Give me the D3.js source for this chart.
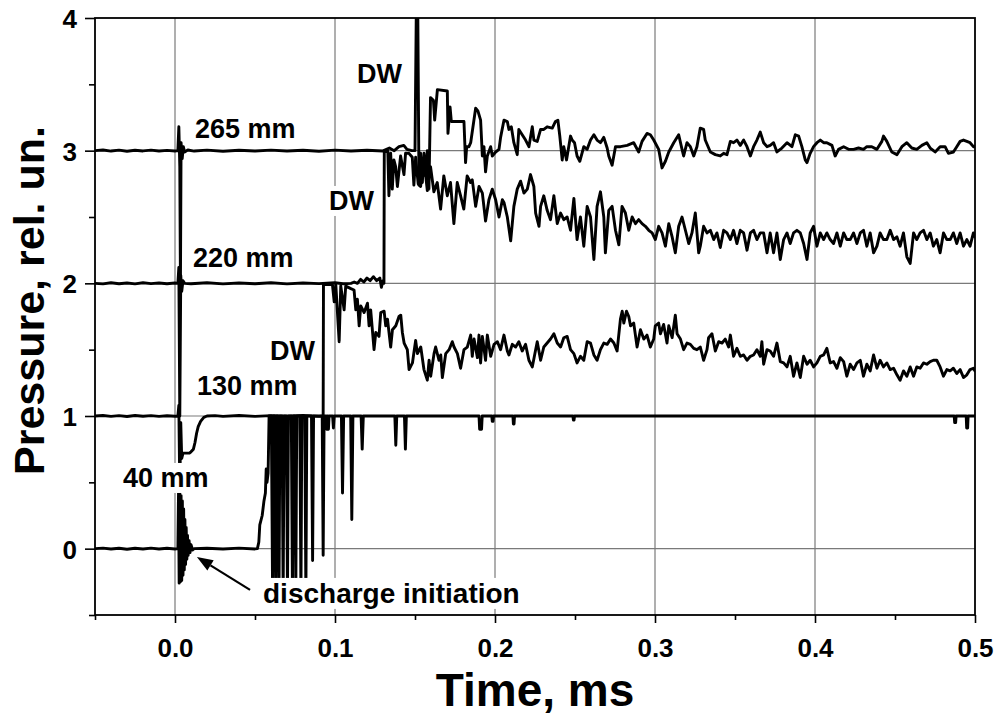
<!DOCTYPE html>
<html><head><meta charset="utf-8">
<script src="https://cdn.jsdelivr.net/npm/d3@7"></script>
<style>
html,body{margin:0;padding:0;background:#fff;}
svg text{font-family:"Liberation Sans",Arial,Helvetica,sans-serif;font-weight:bold;fill:#000;}
</style></head>
<body><svg id="chart" width="999" height="715"></svg>
<script>
// ---------- data ----------
const xTickValues = [0.0, 0.1, 0.2, 0.3, 0.4, 0.5];
const xMinorTicks = [-0.05, 0.05, 0.15, 0.25, 0.35, 0.45];
const yTickValues = [0, 1, 2, 3, 4];
const yMinorTicks = [-0.5, 0.5, 1.5, 2.5, 3.5];
const xTitle = "Time, ms";
const yTitle = "Pressure, rel. un.";
const labelTexts = ["265 mm", "220 mm", "130 mm", "40 mm", "DW", "DW", "DW", "discharge initiation"];

const trace265 = [[-0.05,3.0],[-0.045,3.005],[-0.04,2.997],[-0.035,3.004],[-0.03,2.996],[-0.025,3.003],[-0.02,2.998],[-0.015,3.004],[-0.01,2.997],[-0.005,3.002],[0.0,2.998],[0.0018,3.0],[0.0024,3.18],[0.003,2.88],[0.0034,2.0],[0.0038,3.06],[0.0045,2.94],[0.0052,3.03],[0.006,2.99],[0.008,3.005],[0.012,2.997],[0.02,3.004],[0.03,2.996],[0.04,3.003],[0.05,2.997],[0.06,3.004],[0.07,2.998],[0.08,3.003],[0.09,2.996],[0.1,3.004],[0.11,2.998],[0.12,3.003],[0.13,2.998],[0.134,3.02],[0.137,3.0],[0.14,3.03],[0.143,3.04],[0.145,3.01],[0.148,3.0],[0.15,3.0],[0.151,4.3],[0.1516,4.3],[0.1525,2.74],[0.1535,2.98],[0.1546,2.76],[0.1556,2.98],[0.1566,2.81],[0.1577,3.0],[0.1587,2.71],[0.1597,3.4],[0.1615,3.38],[0.1623,3.23],[0.164,3.46],[0.1702,3.45],[0.1706,3.13],[0.1719,3.33],[0.1727,3.22],[0.1806,3.22],[0.1816,2.91],[0.1823,3.03],[0.1837,3.03],[0.1848,3.06],[0.1879,3.32],[0.1893,3.3],[0.191,3.23],[0.1921,2.96],[0.1931,3.03],[0.1941,2.84],[0.1952,2.96],[0.1973,3.03],[0.1983,2.96],[0.2004,2.99],[0.2025,3.01],[0.2035,3.1],[0.2056,3.23],[0.2077,3.22],[0.2087,3.16],[0.2102,3.18],[0.2118,3.06],[0.2139,2.97],[0.2149,3.16],[0.217,3.12],[0.2191,3.08],[0.2212,3.03],[0.2233,3.18],[0.2243,3.08],[0.2264,3.07],[0.2285,3.16],[0.2305,3.16],[0.2326,3.18],[0.2358,3.17],[0.2378,3.22],[0.2393,3.23],[0.2405,3.11],[0.242,2.93],[0.243,3.03],[0.2447,2.93],[0.2472,3.11],[0.2482,3.08],[0.2497,3.06],[0.2513,2.96],[0.253,2.92],[0.2555,3.03],[0.2576,3.01],[0.2597,3.08],[0.2618,3.12],[0.2638,3.08],[0.2659,3.06],[0.268,3.1],[0.2701,3.02],[0.2711,2.96],[0.2732,2.89],[0.2753,3.03],[0.2784,3.03],[0.2826,3.04],[0.2867,3.06],[0.2898,2.99],[0.2919,3.07],[0.295,3.13],[0.2971,3.12],[0.2992,3.08],[0.3023,3.01],[0.3044,2.87],[0.3065,2.92],[0.3086,2.99],[0.3117,3.06],[0.3148,3.12],[0.3169,3.01],[0.3179,2.96],[0.32,3.06],[0.3221,3.03],[0.3242,2.96],[0.3262,3.03],[0.3283,3.17],[0.3304,3.16],[0.3314,3.08],[0.3346,2.99],[0.3377,2.97],[0.3408,2.96],[0.3429,2.98],[0.345,2.97],[0.3471,3.07],[0.3491,3.06],[0.3512,3.08],[0.3533,3.04],[0.3554,3.08],[0.3575,3.03],[0.3596,2.96],[0.3616,3.03],[0.3637,3.08],[0.3658,3.14],[0.3679,3.06],[0.37,3.03],[0.372,3.04],[0.3741,3.06],[0.3762,2.99],[0.3793,3.02],[0.3825,3.06],[0.3856,3.03],[0.3877,3.12],[0.3898,3.11],[0.3918,3.03],[0.3939,2.93],[0.395,2.91],[0.397,2.98],[0.3991,3.03],[0.4012,3.06],[0.4033,3.08],[0.4054,3.06],[0.4074,3.06],[0.4106,3.04],[0.4126,2.96],[0.4147,3.01],[0.4179,3.03],[0.421,3.01],[0.4241,3.01],[0.4272,3.02],[0.4303,3.01],[0.4324,3.03],[0.4355,3.03],[0.4387,3.01],[0.4418,3.07],[0.4428,3.11],[0.4449,3.07],[0.448,2.99],[0.4512,2.97],[0.4543,3.03],[0.4574,3.06],[0.4605,3.02],[0.4636,3.01],[0.4668,3.04],[0.4699,3.06],[0.472,3.02],[0.4751,2.99],[0.4782,3.03],[0.4813,3.03],[0.4834,2.98],[0.4865,2.99],[0.4886,3.03],[0.4907,3.07],[0.4928,3.08],[0.4949,3.07],[0.4969,3.06],[0.499,3.03],[0.5,3.03]];

const trace220 = [[-0.05,2.0],[-0.045,1.996],[-0.04,2.004],[-0.035,1.997],[-0.03,2.003],[-0.025,1.996],[-0.02,2.004],[-0.015,1.998],[-0.01,2.003],[-0.005,1.997],[0.0,2.002],[0.0018,2.0],[0.0024,2.12],[0.003,1.0],[0.0036,2.06],[0.0042,1.94],[0.005,2.02],[0.006,2.0],[0.01,1.997],[0.02,2.004],[0.03,1.996],[0.04,2.003],[0.05,1.997],[0.06,2.004],[0.07,1.996],[0.08,2.003],[0.09,1.998],[0.1,2.004],[0.105,1.997],[0.11,2.0],[0.112,2.01],[0.114,2.0],[0.116,2.03],[0.118,2.01],[0.12,2.04],[0.122,2.02],[0.124,2.05],[0.126,2.02],[0.128,2.04],[0.129,1.97],[0.13,2.02],[0.1306,2.0],[0.1308,2.99],[0.133,3.0],[0.1337,2.66],[0.1348,2.98],[0.1358,2.71],[0.1368,2.93],[0.1379,2.88],[0.139,2.73],[0.141,2.96],[0.1431,2.82],[0.1441,2.98],[0.1462,2.98],[0.1483,2.95],[0.1493,2.74],[0.1504,2.95],[0.152,2.75],[0.1535,2.73],[0.1556,2.93],[0.1577,2.7],[0.1597,2.88],[0.1618,2.69],[0.1639,2.76],[0.166,2.56],[0.168,2.81],[0.1702,2.66],[0.1722,2.76],[0.1743,2.45],[0.1764,2.76],[0.1785,2.66],[0.1805,2.56],[0.1826,2.81],[0.1847,2.76],[0.1858,2.78],[0.1879,2.58],[0.19,2.73],[0.1921,2.68],[0.1941,2.47],[0.1962,2.63],[0.1983,2.71],[0.2004,2.63],[0.2025,2.5],[0.2046,2.63],[0.2056,2.61],[0.2077,2.5],[0.2098,2.32],[0.2118,2.58],[0.2139,2.71],[0.216,2.77],[0.2181,2.68],[0.2202,2.71],[0.2222,2.82],[0.2243,2.73],[0.2254,2.53],[0.2275,2.43],[0.2285,2.58],[0.2305,2.66],[0.2326,2.55],[0.2347,2.48],[0.2368,2.66],[0.2389,2.45],[0.241,2.53],[0.243,2.48],[0.2451,2.5],[0.2472,2.4],[0.2493,2.64],[0.2513,2.33],[0.2534,2.5],[0.2555,2.28],[0.2576,2.58],[0.2597,2.5],[0.2618,2.18],[0.2638,2.58],[0.2659,2.69],[0.268,2.5],[0.269,2.23],[0.2711,2.55],[0.2732,2.58],[0.2753,2.4],[0.2774,2.29],[0.2794,2.58],[0.2815,2.53],[0.2836,2.4],[0.2857,2.5],[0.2878,2.45],[0.2898,2.48],[0.2919,2.45],[0.294,2.43],[0.2961,2.4],[0.2982,2.38],[0.3002,2.33],[0.3023,2.43],[0.3044,2.38],[0.3065,2.28],[0.3086,2.45],[0.3107,2.35],[0.3127,2.23],[0.3148,2.43],[0.3169,2.5],[0.319,2.4],[0.3211,2.3],[0.3231,2.38],[0.3252,2.53],[0.3273,2.23],[0.3283,2.28],[0.3304,2.43],[0.3325,2.38],[0.3346,2.4],[0.3367,2.33],[0.3387,2.38],[0.3408,2.27],[0.3429,2.4],[0.345,2.38],[0.3471,2.33],[0.3491,2.4],[0.3512,2.3],[0.3533,2.4],[0.3554,2.38],[0.3575,2.25],[0.3596,2.38],[0.3616,2.4],[0.3637,2.33],[0.3658,2.38],[0.3679,2.38],[0.37,2.23],[0.372,2.38],[0.3741,2.23],[0.3762,2.38],[0.3783,2.18],[0.3804,2.33],[0.3825,2.38],[0.3845,2.3],[0.3866,2.38],[0.3887,2.4],[0.3908,2.38],[0.3929,2.3],[0.395,2.18],[0.397,2.38],[0.3991,2.43],[0.4012,2.28],[0.4033,2.38],[0.4054,2.33],[0.4074,2.38],[0.4095,2.33],[0.4116,2.3],[0.4137,2.38],[0.4158,2.28],[0.4179,2.38],[0.4199,2.33],[0.422,2.33],[0.4241,2.38],[0.4262,2.3],[0.4283,2.38],[0.4303,2.4],[0.4324,2.28],[0.4345,2.38],[0.4366,2.23],[0.4387,2.28],[0.4407,2.38],[0.4428,2.33],[0.4449,2.33],[0.447,2.4],[0.4491,2.33],[0.4512,2.35],[0.4532,2.28],[0.4553,2.38],[0.4574,2.2],[0.4595,2.15],[0.4616,2.38],[0.4636,2.33],[0.4657,2.38],[0.4678,2.4],[0.4699,2.33],[0.472,2.38],[0.474,2.28],[0.4761,2.33],[0.4782,2.23],[0.4803,2.38],[0.4824,2.33],[0.4845,2.33],[0.4865,2.38],[0.4886,2.3],[0.4907,2.38],[0.4928,2.28],[0.4949,2.33],[0.4969,2.28],[0.499,2.38],[0.5,2.35]];

const trace130 = [[-0.05,1.0],[-0.045,1.004],[-0.04,0.997],[-0.035,1.003],[-0.03,0.996],[-0.025,1.004],[-0.02,0.998],[-0.015,1.003],[-0.01,0.997],[-0.005,1.002],[0.0,0.998],[0.0018,1.0],[0.0024,1.08],[0.003,0.45],[0.0036,0.95],[0.0042,0.68],[0.005,0.72],[0.007,0.72],[0.009,0.72],[0.01,0.73],[0.0115,0.75],[0.0125,0.8],[0.0135,0.87],[0.0145,0.92],[0.016,0.96],[0.018,0.99],[0.02,1.0],[0.025,1.003],[0.03,0.997],[0.04,1.004],[0.05,0.997],[0.06,1.003],[0.07,0.998],[0.08,1.004],[0.09,0.997],[0.0926,1.0],[0.0928,2.0],[0.0932,1.99],[0.0984,1.99],[0.0995,1.86],[0.1005,1.99],[0.1026,1.56],[0.1036,1.98],[0.1057,1.8],[0.1067,1.98],[0.1099,1.96],[0.1119,1.95],[0.113,1.8],[0.114,1.88],[0.1151,1.68],[0.1161,1.83],[0.1182,1.78],[0.1203,1.85],[0.1213,1.68],[0.1223,1.8],[0.1244,1.5],[0.1255,1.63],[0.1275,1.6],[0.1286,1.78],[0.1307,1.79],[0.1317,1.68],[0.1328,1.73],[0.1348,1.52],[0.1359,1.65],[0.138,1.68],[0.14,1.75],[0.1411,1.76],[0.1421,1.63],[0.1432,1.55],[0.1452,1.5],[0.1463,1.35],[0.1484,1.4],[0.1504,1.57],[0.1515,1.47],[0.1536,1.52],[0.1556,1.35],[0.1577,1.27],[0.1588,1.42],[0.1598,1.3],[0.1619,1.47],[0.1629,1.52],[0.165,1.42],[0.1661,1.46],[0.1671,1.29],[0.1692,1.47],[0.1713,1.5],[0.1733,1.56],[0.1744,1.52],[0.1765,1.47],[0.1785,1.36],[0.1806,1.5],[0.1827,1.52],[0.1848,1.61],[0.1858,1.45],[0.1869,1.58],[0.189,1.44],[0.19,1.61],[0.191,1.4],[0.1921,1.6],[0.1941,1.42],[0.1952,1.61],[0.1973,1.45],[0.1994,1.54],[0.2015,1.56],[0.2035,1.5],[0.2056,1.61],[0.2077,1.49],[0.2087,1.46],[0.2108,1.54],[0.2129,1.52],[0.2149,1.56],[0.217,1.49],[0.2191,1.54],[0.2212,1.42],[0.2233,1.37],[0.2254,1.5],[0.2264,1.56],[0.2285,1.42],[0.2305,1.52],[0.2326,1.55],[0.2347,1.58],[0.2368,1.62],[0.2389,1.55],[0.241,1.52],[0.243,1.59],[0.2451,1.6],[0.2472,1.5],[0.2493,1.47],[0.2513,1.4],[0.2534,1.45],[0.2555,1.42],[0.2576,1.56],[0.2597,1.55],[0.2618,1.46],[0.2638,1.42],[0.2659,1.5],[0.268,1.55],[0.2701,1.54],[0.2722,1.58],[0.2743,1.55],[0.2763,1.49],[0.2784,1.73],[0.2795,1.79],[0.2805,1.7],[0.2822,1.79],[0.2836,1.75],[0.2847,1.68],[0.2867,1.7],[0.2888,1.52],[0.2909,1.65],[0.293,1.58],[0.295,1.61],[0.2971,1.52],[0.2992,1.58],[0.3002,1.68],[0.3023,1.7],[0.3034,1.62],[0.3054,1.69],[0.3075,1.55],[0.3086,1.68],[0.3107,1.59],[0.3127,1.76],[0.3138,1.62],[0.3159,1.58],[0.3179,1.5],[0.32,1.55],[0.3221,1.54],[0.3242,1.51],[0.3262,1.5],[0.3283,1.52],[0.3304,1.42],[0.3325,1.5],[0.3335,1.59],[0.3356,1.62],[0.3377,1.49],[0.3398,1.56],[0.3419,1.55],[0.3439,1.58],[0.346,1.52],[0.3471,1.61],[0.3491,1.45],[0.3512,1.51],[0.3533,1.45],[0.3554,1.46],[0.3575,1.42],[0.3596,1.45],[0.3616,1.46],[0.3637,1.5],[0.3658,1.45],[0.3668,1.56],[0.3679,1.39],[0.37,1.5],[0.372,1.49],[0.3741,1.45],[0.3762,1.55],[0.3783,1.41],[0.3804,1.4],[0.3825,1.37],[0.3845,1.45],[0.3866,1.3],[0.3887,1.4],[0.3908,1.29],[0.3929,1.45],[0.395,1.39],[0.397,1.42],[0.3991,1.37],[0.4012,1.4],[0.4033,1.45],[0.4054,1.46],[0.4074,1.51],[0.4095,1.4],[0.4116,1.41],[0.4137,1.36],[0.4158,1.44],[0.4179,1.41],[0.4199,1.3],[0.422,1.39],[0.4241,1.35],[0.4262,1.4],[0.4283,1.42],[0.4303,1.3],[0.4324,1.39],[0.4345,1.34],[0.4366,1.46],[0.4387,1.36],[0.4407,1.42],[0.4428,1.37],[0.4449,1.4],[0.447,1.35],[0.4491,1.36],[0.4512,1.31],[0.4532,1.27],[0.4553,1.34],[0.4574,1.3],[0.4595,1.37],[0.4616,1.3],[0.4636,1.37],[0.4657,1.36],[0.4678,1.4],[0.4699,1.39],[0.472,1.41],[0.474,1.42],[0.4761,1.42],[0.4782,1.37],[0.4803,1.3],[0.4824,1.35],[0.4845,1.34],[0.4865,1.36],[0.4886,1.32],[0.4907,1.35],[0.4928,1.29],[0.4949,1.31],[0.4969,1.35],[0.499,1.36],[0.5,1.34]];

const trace40 = [[-0.05,0.0],[-0.045,0.004],[-0.04,-0.003],[-0.035,0.003],[-0.03,-0.004],[-0.025,0.003],[-0.02,-0.003],[-0.015,0.004],[-0.01,-0.003],[-0.005,0.003],[0.0,-0.002],[0.0018,0.0],[0.0022,0.42],[0.0026,-0.26],[0.003,0.44],[0.0034,-0.25],[0.0038,0.4],[0.0042,-0.24],[0.0046,0.36],[0.005,-0.2],[0.0054,0.3],[0.0058,-0.16],[0.0062,0.22],[0.0066,-0.12],[0.007,0.16],[0.0074,-0.08],[0.0078,0.1],[0.0082,-0.05],[0.0088,0.06],[0.0094,-0.03],[0.01,0.03],[0.011,-0.01],[0.012,0.0],[0.02,0.003],[0.03,-0.003],[0.04,0.004],[0.05,-0.002],[0.0515,0.0],[0.0524,0.05],[0.053,0.18],[0.0545,0.25],[0.0556,0.36],[0.0565,0.42],[0.057,0.6],[0.0575,0.5],[0.0582,0.57],[0.0588,1.0],[0.0602,1.0],[0.061,-0.35],[0.0616,1.0],[0.0623,1.0],[0.063,-0.35],[0.0636,1.0],[0.0643,1.0],[0.065,-0.35],[0.0656,1.0],[0.0669,1.0],[0.0676,-0.35],[0.0682,1.0],[0.0696,1.0],[0.0703,-0.35],[0.0709,1.0],[0.0727,1.0],[0.0734,-0.35],[0.074,1.0],[0.0749,1.0],[0.0755,-0.35],[0.0761,1.0],[0.078,1.0],[0.0787,-0.35],[0.0793,1.0],[0.0811,1.0],[0.0818,-0.35],[0.0824,1.0],[0.0853,1.0],[0.086,-0.09],[0.0866,1.0],[0.092,1.0],[0.0926,-0.05],[0.0932,1.0],[0.0944,1.0],[0.0948,0.9],[0.0952,1.0],[0.0955,1.0],[0.0959,0.9],[0.0963,1.0],[0.0985,1.0],[0.099,0.91],[0.0995,1.0],[0.104,1.0],[0.1047,0.42],[0.1054,1.0],[0.1098,1.0],[0.1105,0.22],[0.1112,1.0],[0.1163,1.0],[0.117,0.75],[0.1177,1.0],[0.1374,1.0],[0.138,0.78],[0.1386,1.0],[0.1434,1.0],[0.144,0.75],[0.1446,1.0],[0.19,1.0],[0.1904,0.9],[0.1916,0.9],[0.192,1.0],[0.198,1.0],[0.1983,0.96],[0.1988,0.96],[0.1991,1.0],[0.2112,1.0],[0.2115,0.94],[0.2119,0.94],[0.2122,1.0],[0.2487,1.0],[0.249,0.97],[0.2494,0.97],[0.2497,1.0],[0.3,1.0],[0.4,1.0],[0.487,1.0],[0.4873,0.95],[0.4879,0.95],[0.4882,1.0],[0.4945,1.0],[0.4948,0.91],[0.4954,0.91],[0.4957,1.0],[0.5,1.0]];

const traces = [trace265, trace220, trace130, trace40];

// ---------- layout ----------
const W = 999, H = 715;
const plot = {left: 95, right: 975, top: 18, bottom: 615};
const FONT = '"Liberation Sans",Arial,Helvetica,sans-serif';

const svg = d3.select("#chart");
svg.append("rect").attr("width", W).attr("height", H).attr("fill", "#fff");

const x = d3.scaleLinear().domain([-0.05, 0.5]).range([plot.left, plot.right]);
const y = d3.scaleLinear().domain([-0.5, 4]).range([plot.bottom, plot.top]);

// grid
const grid = svg.append("g").attr("stroke", "#7a7a7a").attr("stroke-width", 1.2);
grid.selectAll("line.v").data(xTickValues.filter(d => d < 0.5)).join("line")
  .attr("x1", d => x(d)).attr("x2", d => x(d)).attr("y1", plot.top).attr("y2", plot.bottom);
grid.selectAll("line.h").data(yTickValues.filter(d => d < 4)).join("line")
  .attr("y1", d => y(d)).attr("y2", d => y(d)).attr("x1", plot.left).attr("x2", plot.right);

// traces
svg.append("clipPath").attr("id", "clip").append("rect")
  .attr("x", plot.left).attr("y", plot.top).attr("width", plot.right - plot.left).attr("height", plot.bottom - plot.top);
const line = d3.line().x(d => x(d[0])).y(d => y(d[1]));
svg.append("g").attr("clip-path", "url(#clip)")
  .selectAll("path").data(traces).join("path")
  .attr("d", line).attr("fill", "none").attr("stroke", "#000")
  .attr("stroke-width", 2.9).attr("stroke-linejoin", "round").attr("stroke-linecap", "round");

// frame
svg.append("rect").attr("x", plot.left).attr("y", plot.top)
  .attr("width", plot.right - plot.left).attr("height", plot.bottom - plot.top)
  .attr("fill", "none").attr("stroke", "#000").attr("stroke-width", 1.8);

// axes
const fmtX = d3.format(".1f");
const xAxis = svg.append("g").attr("transform", `translate(0,${plot.bottom})`)
  .call(d3.axisBottom(x).tickValues(xTickValues).tickFormat(fmtX).tickSize(8).tickPadding(16));
const xAxisMinor = svg.append("g").attr("transform", `translate(0,${plot.bottom})`)
  .call(d3.axisBottom(x).tickValues(xMinorTicks).tickFormat("").tickSize(5));
const yAxis = svg.append("g").attr("transform", `translate(${plot.left},0)`)
  .call(d3.axisLeft(y).tickValues(yTickValues).tickFormat(d3.format("d")).tickSize(10).tickPadding(8));
const yAxisMinor = svg.append("g").attr("transform", `translate(${plot.left},0)`)
  .call(d3.axisLeft(y).tickValues(yMinorTicks).tickFormat("").tickSize(6));
[xAxis, xAxisMinor, yAxis, yAxisMinor].forEach(g => {
  g.select(".domain").remove();
  g.selectAll(".tick line").attr("stroke", "#000").attr("stroke-width", 1.6);
  g.selectAll("text").attr("font-family", FONT).attr("font-weight", "bold").attr("font-size", 26).attr("fill", "#000");
});
xAxis.selectAll("text").attr("dy", "0.71em");
yAxis.selectAll("text").attr("dy", "0.36em");

// titles
svg.append("text").attr("x", (plot.left + plot.right) / 2).attr("y", 706)
  .attr("text-anchor", "middle").attr("font-size", 46).text(xTitle);
svg.append("text").attr("transform", `translate(44,${(plot.top + plot.bottom) / 2 - 16}) rotate(-90)`)
  .attr("text-anchor", "middle").attr("font-size", 43).text(yTitle);

// annotations (anchor: start x in ms, baseline in pressure units)
const labelAnchors = [[0.0125, 3.096], [0.0112, 2.123], [0.0137, 1.159], [-0.0325, 0.465],
  [0.1137, 3.51], [0.0962, 2.553], [0.0594, 1.422], [0.055, -0.409]];
const labelSizes = [27, 27, 27, 27, 27, 27, 27, 28];
const labG = svg.append("g");
labelTexts.forEach((t, i) => {
  const g = labG.append("g");
  const bg = g.append("rect").attr("fill", "#fff");
  const tx = g.append("text").attr("x", x(labelAnchors[i][0])).attr("y", y(labelAnchors[i][1]))
    .attr("font-size", labelSizes[i]).text(t);
  const b = tx.node().getBBox();
  bg.attr("x", b.x - 2).attr("y", b.y).attr("width", b.width + 4).attr("height", b.height);
});

// arrow for discharge initiation
const arrowFrom = [0.0469, -0.311], arrowTo = [0.0137, -0.0625];
const ax1 = x(arrowFrom[0]), ay1 = y(arrowFrom[1]), ax2 = x(arrowTo[0]), ay2 = y(arrowTo[1]);
const ang = Math.atan2(ay2 - ay1, ax2 - ax1);
const hl = 16, hw = 6;
const bx = ax2 - hl * Math.cos(ang), by = ay2 - hl * Math.sin(ang);
svg.append("line").attr("x1", ax1).attr("y1", ay1).attr("x2", bx).attr("y2", by)
  .attr("stroke", "#000").attr("stroke-width", 2.2);
svg.append("path").attr("d", `M${ax2},${ay2} L${bx + hw * Math.sin(ang)},${by - hw * Math.cos(ang)} L${bx - hw * Math.sin(ang)},${by + hw * Math.cos(ang)} Z`)
  .attr("fill", "#000");
</script></body></html>
